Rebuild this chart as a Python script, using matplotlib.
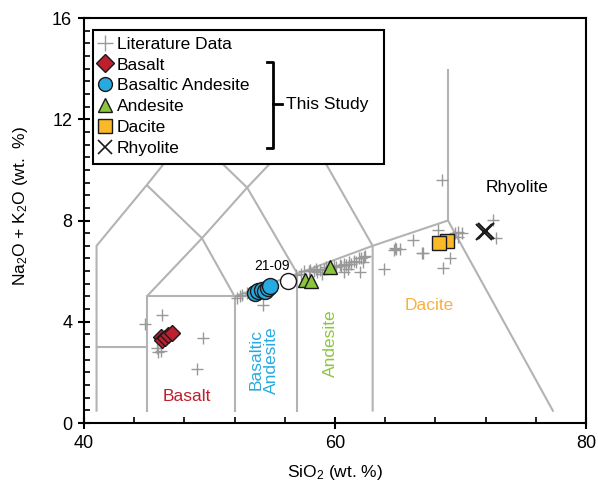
import matplotlib
matplotlib.use("Agg")
import matplotlib.pyplot as plt
from matplotlib.lines import Line2D
from matplotlib.patches import Rectangle
from matplotlib.ticker import MultipleLocator

plt.rcParams['font.family'] = ['Liberation Sans', 'DejaVu Sans']
plt.rcParams['mathtext.fontset'] = 'custom'
plt.rcParams['mathtext.rm'] = 'Liberation Sans'
plt.rcParams['mathtext.it'] = 'Liberation Sans:italic'

# TAS field boundaries (SiO2, Na2O+K2O)
tas_lines = [
    [(41, 0.45), (41, 7), (45, 9.4), (48.4, 11.5), (52.5, 14), (57.6, 11.7), (63, 7), (63, 0.45)],
    [(41, 3), (45, 3)],
    [(45, 0.45), (45, 5), (52, 5), (52, 0.45)],
    [(52, 5), (57, 5.9), (63, 7), (69, 8), (77.4, 0.45)],
    [(57, 0.45), (57, 5.9)],
    [(45, 5), (49.4, 7.3), (53, 9.3), (57.6, 11.7), (61, 13.5)],
    [(45, 9.4), (49.4, 7.3), (52, 5)],
    [(48.4, 11.5), (53, 9.3), (57, 5.9)],
    [(69, 8), (69, 14)],
]

# literature data
lit_sio2 = [44.9, 46.2, 45.8, 45.9, 46.1, 49.5, 49.0,
            52.2, 52.6, 53.0, 52.4, 54.3, 53.3,
            56.5, 56.9, 57.3, 57.5, 57.9, 58.0, 58.3, 58.5, 58.8, 59.1, 59.3, 59.6,
            59.9, 60.1, 60.4, 60.5, 60.7, 60.9, 61.1, 61.3, 61.5, 61.7, 61.9, 62.1,
            62.3, 62.4, 60.7, 62.0, 59.0, 58.6, 61.0, 62.2,
            63.9, 64.7, 64.8, 64.9, 65.2, 66.2, 66.9, 67.0,
            68.5, 68.2, 68.6, 69.2, 69.6, 69.8, 70.1, 69.8, 72.6, 72.8, 68.8]
lit_total = [3.9, 4.25, 2.95, 2.82, 2.86, 3.35, 2.15,
             4.95, 5.05, 5.12, 5.0, 4.65, 5.1,
             5.65, 5.85, 5.9, 6.0, 6.0, 6.05, 6.0, 6.1, 6.05, 6.1, 6.15, 6.12,
             6.2, 6.15, 6.25, 6.2, 6.3, 6.25, 6.35, 6.3, 6.4, 6.38, 6.5, 6.5,
             6.55, 6.6, 5.98, 5.98, 5.9, 5.95, 6.1, 6.35,
             6.07, 6.84, 6.9, 6.86, 6.86, 7.23, 6.73, 6.7,
             9.6, 7.63, 6.11, 6.51, 7.5, 7.56, 7.52, 7.36, 8.02, 7.3, 7.2]

basalt_sio2 = [46.1, 46.2, 46.45, 46.7, 47.05]
basalt_total = [3.4, 3.27, 3.36, 3.48, 3.55]

bas_and_sio2 = [53.6, 53.9, 54.2, 54.4, 54.7, 54.85]
bas_and_total = [5.15, 5.2, 5.25, 5.2, 5.32, 5.42]

andesite_sio2 = [57.6, 58.1, 59.6]
andesite_total = [5.65, 5.62, 6.18]

dacite_sio2 = [68.95, 68.3]
dacite_total = [7.18, 7.1]

rhyolite_sio2 = [71.9, 72.0]
rhyolite_total = [7.55, 7.6]

sample_2109 = (56.25, 5.6)

fig = plt.figure(figsize=(5.98, 4.87), dpi=100)
ax = fig.add_axes([84 / 598, 1 - 423 / 487, 502 / 598, 405 / 487])

for seg in tas_lines:
    xs = [p[0] for p in seg]
    ys = [p[1] for p in seg]
    ax.plot(xs, ys, color='#b3b3b3', lw=1.5, zorder=1, solid_capstyle='butt')

ax.plot(lit_sio2, lit_total, '+', color='#999999', ms=9, mew=1.0, zorder=2)

ec = '#1a1a1a'
ax.plot(basalt_sio2, basalt_total, 'D', color='#be1e2d', mec=ec, mew=1, ms=8.5, ls='none', zorder=3)
ax.plot(bas_and_sio2, bas_and_total, 'o', color='#27aae1', mec=ec, mew=1, ms=11.5, ls='none', zorder=3)
ax.plot(*sample_2109, 'o', color='white', mec=ec, mew=1, ms=11.5, zorder=3)
ax.text(sample_2109[0] - 1.3, sample_2109[1] + 0.62, '21-09', fontsize=10, ha='center', va='center', zorder=3)
ax.plot(andesite_sio2, andesite_total, '^', color='#8cc63f', mec=ec, mew=1, ms=10, ls='none', zorder=3)
ax.plot(dacite_sio2, dacite_total, 's', color='#fbb829', mec=ec, mew=1, ms=10.5, ls='none', zorder=3)
ax.plot(rhyolite_sio2, rhyolite_total, 'x', color='#1a1a1a', mew=1.5, ms=12, ls='none', zorder=3)

# field labels
ax.text(48.2, 1.05, 'Basalt', color='#be1e2d', fontsize=12.5, ha='center', va='center')
ax.text(54.35, 2.5, 'Basaltic\nAndesite', color='#27aae1', fontsize=12.5, ha='center', va='center',
        rotation=90, linespacing=1.05)
ax.text(59.65, 3.15, 'Andesite', color='#8cc63f', fontsize=12.5, ha='center', va='center', rotation=90)
ax.text(67.5, 4.63, 'Dacite', color='#fbb040', fontsize=12.5, ha='center', va='center')
ax.text(74.5, 9.3, 'Rhyolite', color='black', fontsize=12.5, ha='center', va='center')

ax.set_xlim(40, 80)
ax.set_ylim(0, 16)
ax.xaxis.set_major_locator(MultipleLocator(20))
ax.xaxis.set_minor_locator(MultipleLocator(4))
ax.yaxis.set_major_locator(MultipleLocator(4))
ax.yaxis.set_minor_locator(MultipleLocator(0.5))
ax.tick_params(which='major', direction='inout', length=9, width=1.5, labelsize=13, pad=4)
ax.tick_params(which='minor', direction='in', length=4.5, width=1.2)
for s in ax.spines.values():
    s.set_linewidth(1.5)

ax.set_xlabel(r'SiO$_\mathregular{2}$ (wt. %)', fontsize=12.5, labelpad=8)
ax.set_ylabel(r'Na$_\mathregular{2}$O + K$_\mathregular{2}$O (wt.  %)', fontsize=12.5)
ax.yaxis.set_label_coords(-0.108, 0.535)

# legend box
x0 = (92.7 - 84) / 502
y1 = (423 - 30) / 405
w = (384 - 92.7) / 502
h = (164 - 30) / 405
ax.add_patch(Rectangle((x0, y1 - h), w, h, transform=ax.transAxes, facecolor='white',
                       edgecolor='black', lw=1.5, zorder=5))

handles = [
    Line2D([], [], marker='+', color='#999999', ls='none', ms=11, mew=1.0),
    Line2D([], [], marker='D', color='#be1e2d', mec=ec, ls='none', ms=9),
    Line2D([], [], marker='o', color='#27aae1', mec=ec, ls='none', ms=10),
    Line2D([], [], marker='^', color='#8cc63f', mec=ec, ls='none', ms=10),
    Line2D([], [], marker='s', color='#fbb829', mec=ec, ls='none', ms=9.5),
    Line2D([], [], marker='x', color='#1a1a1a', ls='none', ms=10, mew=1.2),
]
labels = ['Literature Data', 'Basalt', 'Basaltic Andesite', 'Andesite', 'Dacite', 'Rhyolite']
leg = ax.legend(handles, labels, loc='upper left', bbox_to_anchor=(x0 + 0.008, y1 - 0.016),
                frameon=False, fontsize=12.5, handlelength=0.9, handletextpad=0.25,
                labelspacing=0.33, borderpad=0, borderaxespad=0)
leg.set_zorder(6)

# bracket for "This Study"
tr = ax.transAxes
def px(xp, yp):
    return (xp - 84) / 502, (423 - yp) / 405

bx, _ = px(272.5, 0)
lx, _ = px(267, 0)
mx, _ = px(281.5, 0)
_, bt = px(0, 62)
_, bb = px(0, 148)
_, bm = px(0, 104)
ax.plot([lx, bx, bx, lx], [bt, bt, bb, bb], color='black', lw=2, transform=tr, zorder=7)
ax.plot([bx, mx], [bm, bm], color='black', lw=2, transform=tr, zorder=7)
tx, _ = px(286.5, 0)
ax.text(tx, bm, 'This Study', fontsize=12.5, ha='left', va='center', transform=tr, zorder=7)

fig.savefig('out.png', dpi=100)
